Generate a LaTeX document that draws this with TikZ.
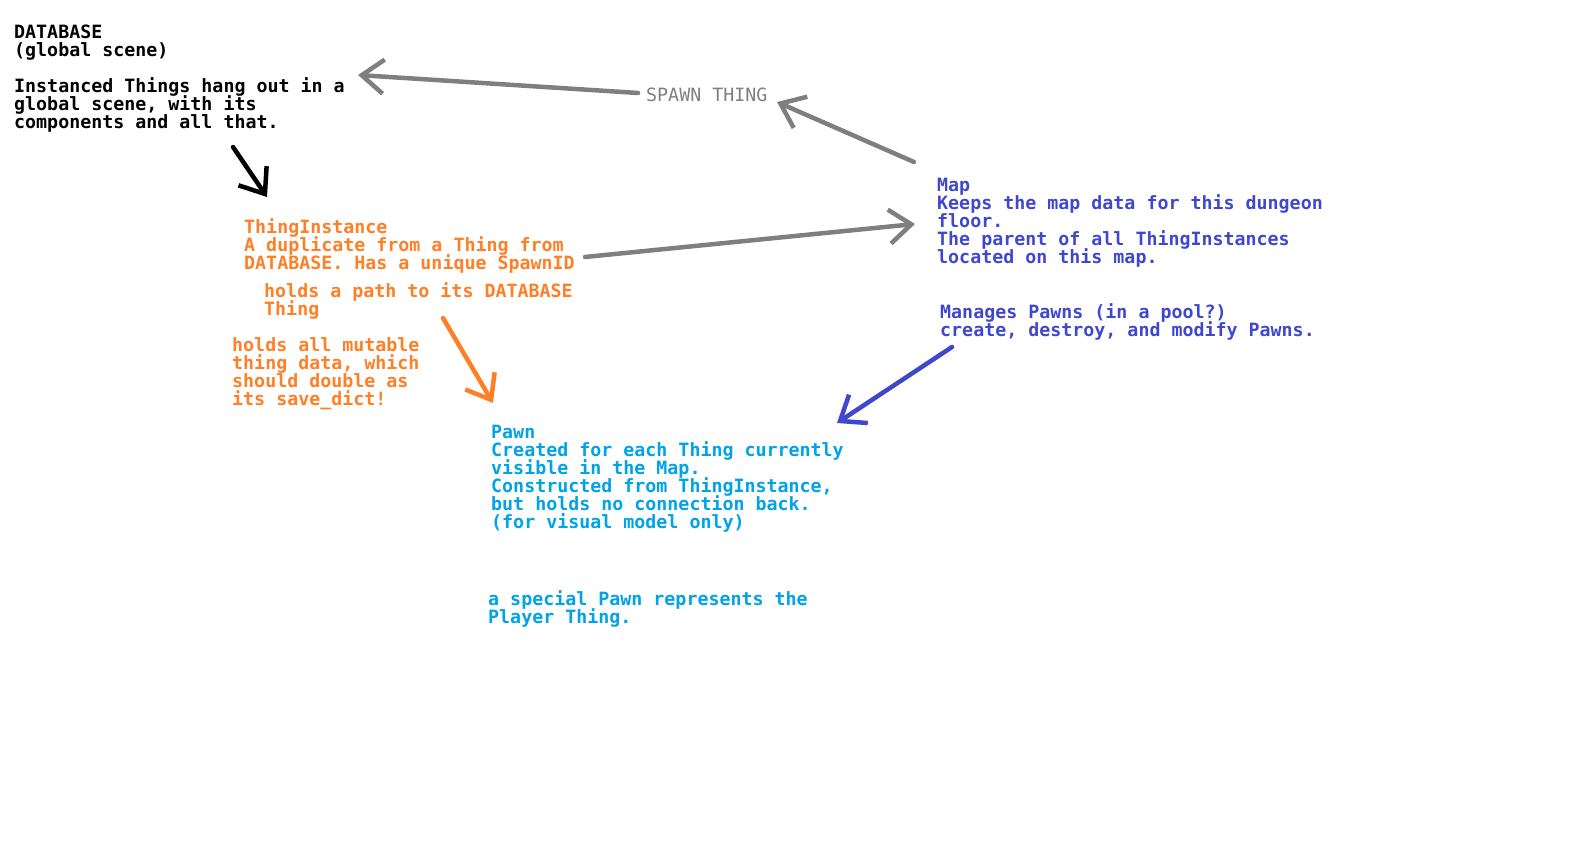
\documentclass[tikz,border=0pt]{standalone}
\usepackage{fontspec}
\setmonofont{DejaVu Sans Mono}
\usetikzlibrary{arrows.meta}

\definecolor{paintorange}{RGB}{255,127,39}
\definecolor{paintgray}{RGB}{127,127,127}
\definecolor{paintindigo}{RGB}{63,72,204}
\definecolor{paintsky}{RGB}{0,162,232}

\newcommand\pixelfont{\ttfamily\fontsize{18.3}{18}\selectfont\lineskiplimit-50pt\relax}

\tikzset{
  note/.style={anchor=north west, inner sep=0pt, align=left,
    font=\pixelfont\bfseries},
  scribble/.style={line width=4.5pt, line cap=round, line join=round,
    -{Straight Barb[length=22pt, width=34pt]}},
}

\begin{document}
\begin{tikzpicture}[x=1pt, y=-1pt]
        \useasboundingbox (0,0) rectangle (1574,843);

        % global scene
        \node[note] (db) at (14,25) {DATABASE\\(global scene)\\[18pt]Instanced Things hang out in a\\global scene, with its\\components and all that.};

        % ThingInstance
        \node[note, paintorange] (inst) at (244,218) {ThingInstance\\A duplicate from a Thing from\\DATABASE. Has a unique SpawnID};
        \node[note, paintorange] (path) at (264,282) {holds a path to its DATABASE\\Thing};
        \node[note, paintorange] (mut) at (232,337) {holds all mutable\\thing data, which\\should double as\\its save\_dict!};

        % Map
        \node[note, paintgray, font=\pixelfont] (spawn) at (646,88) {SPAWN THING};
        \node[note, paintindigo] (map) at (937,178) {Map\\Keeps the map data for this dungeon\\floor.\\The parent of all ThingInstances\\located on this map.};
        \node[note, paintindigo] (pool) at (940,303) {Manages Pawns (in a pool?)\\create, destroy, and modify Pawns.};

        % Pawn
        \node[note, paintsky] (pawn) at (491,425) {Pawn\\Created for each Thing currently\\visible in the Map.\\Constructed from ThingInstance,\\but holds no connection back.\\(for visual model only)};
        \node[note, paintsky] (player) at (488,590) {a special Pawn represents the\\Player Thing.};

        % arrow ends
        \coordinate (dbOut) at (233,147);
        \coordinate (instIn) at (267,197);
        \coordinate (spawnOut) at (638,93);
        \coordinate (dbIn) at (358,75);
        \coordinate (mapOut) at (914,162);
        \coordinate (spawnIn) at (777,102);
        \coordinate (instOut) at (585,257);
        \coordinate (mapIn) at (915,224);
        \coordinate (mutOut) at (443,318);
        \coordinate (pawnIn) at (493,403);
        \coordinate (poolOut) at (952,347);
        \coordinate (poolIn) at (837,423);

        \draw[scribble] (dbOut) -- (instIn);
        \draw[scribble, paintgray] (spawnOut) -- (dbIn);
        \draw[scribble, paintgray] (mapOut) -- (spawnIn);
        \draw[scribble, paintgray] (instOut) -- (mapIn);
        \draw[scribble, paintorange] (mutOut) -- (pawnIn);
        \draw[scribble, paintindigo] (poolOut) -- (poolIn);

    \end{tikzpicture}
\end{document}
